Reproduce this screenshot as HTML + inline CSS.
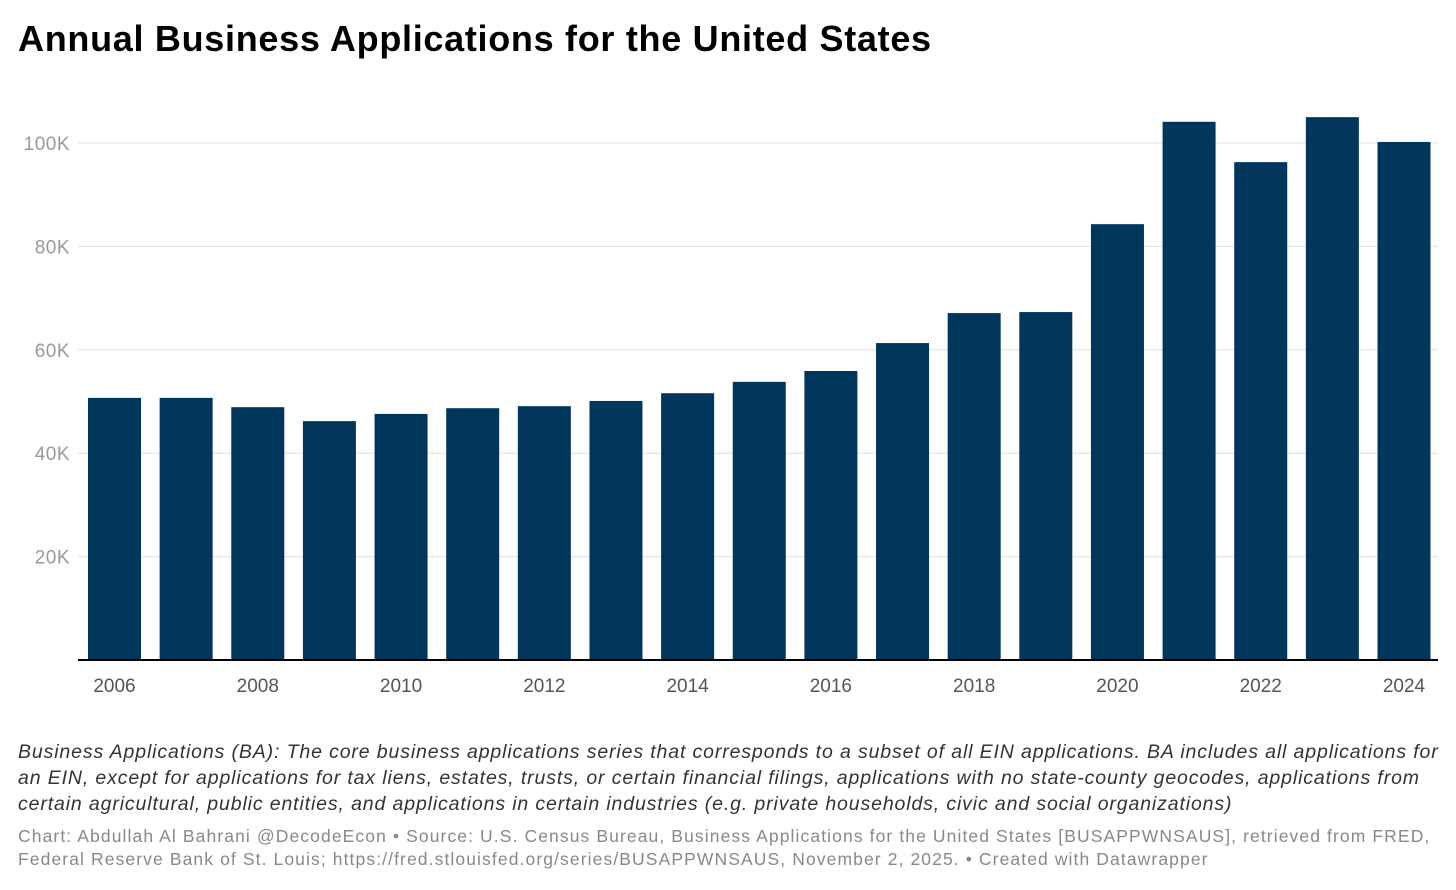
<!DOCTYPE html>
<html><head><meta charset="utf-8"><style>
body{margin:0;width:1456px;height:890px;background:#fff;font-family:"Liberation Sans",Arial,sans-serif;overflow:hidden;position:relative}
.t{position:absolute;white-space:nowrap}
</style></head><body>
<div class="t" style="left:18px;top:18px;font-size:36px;font-weight:bold;color:#000;letter-spacing:0.7px">Annual Business Applications for the United States</div>
<svg id="chart" width="1456" height="720" style="position:absolute;left:0;top:0"></svg>
<div class="t" style="left:18px;top:739px;font-size:19.5px;font-style:italic;color:#333;line-height:26px;letter-spacing:0.87px">Business Applications (BA): The core business applications series that corresponds to a subset of all EIN applications. BA includes all applications for<br>an EIN, except for applications for tax liens, estates, trusts, or certain financial filings, applications with no state-county geocodes, applications from<br>certain agricultural, public entities, and applications in certain industries (e.g. private households, civic and social organizations)</div>
<div class="t" style="left:18px;top:825px;font-size:17.5px;color:#888;line-height:23px;letter-spacing:1.1px">Chart: Abdullah Al Bahrani @DecodeEcon • Source: U.S. Census Bureau, Business Applications for the United States [BUSAPPWNSAUS], retrieved from FRED,<br>Federal Reserve Bank of St. Louis; https://fred.stlouisfed.org/series/BUSAPPWNSAUS, November 2, 2025. • Created with Datawrapper</div>
<script>
const years=[2006,2007,2008,2009,2010,2011,2012,2013,2014,2015,2016,2017,2018,2019,2020,2021,2022,2023,2024];
const values=[50.7,50.7,48.9,46.2,47.6,48.7,49.1,50.1,51.6,53.8,55.9,61.3,67.1,67.3,84.3,104.1,96.3,105.0,100.2];
const yTicks=[20,40,60,80,100];
const yTickLabels=["20K","40K","60K","80K","100K"];
const xTickLabels=["2006","2008","2010","2012","2014","2016","2018","2020","2022","2024"];
const svg=document.getElementById('chart');
const NS='http://www.w3.org/2000/svg';
const y0=660,yScale=(660-143)/100;
const yPos=v=>y0-v*yScale;
const x0=114.5,step=(1404-114.5)/(years.length-1),bw=53;
const xPos=i=>x0+i*step;
function mk(tag,attrs){const e=document.createElementNS(NS,tag);for(const k in attrs)e.setAttribute(k,attrs[k]);svg.appendChild(e);return e;}
yTicks.forEach((v,i)=>{
 const l=mk('line',{x1:78,x2:1438,y1:yPos(v),y2:yPos(v),stroke:'#e0e0e0','stroke-width':1});
 
 
 const t=mk('text',{x:70,y:yPos(v)+7,'text-anchor':'end','font-size':19,fill:'#999','letter-spacing':0.5,'font-family':'Liberation Sans, sans-serif'});
 t.textContent=yTickLabels[i];
 
 
});
years.forEach((yr,i)=>{
 const r=mk('rect',{x:xPos(i)-bw/2,y:yPos(values[i]),width:bw,height:values[i]*yScale,fill:'#01365c'});
 
 
 if(xTickLabels.includes(String(yr))){
  const t=mk('text',{x:xPos(i),y:692,'text-anchor':'middle','font-size':19,fill:'#555','font-family':'Liberation Sans, sans-serif'});
  t.textContent=String(yr);
  
  
 }
});
const b=mk('line',{x1:78,x2:1438,y1:y0,y2:y0,stroke:'#000','stroke-width':2});


</script>
</body></html>
